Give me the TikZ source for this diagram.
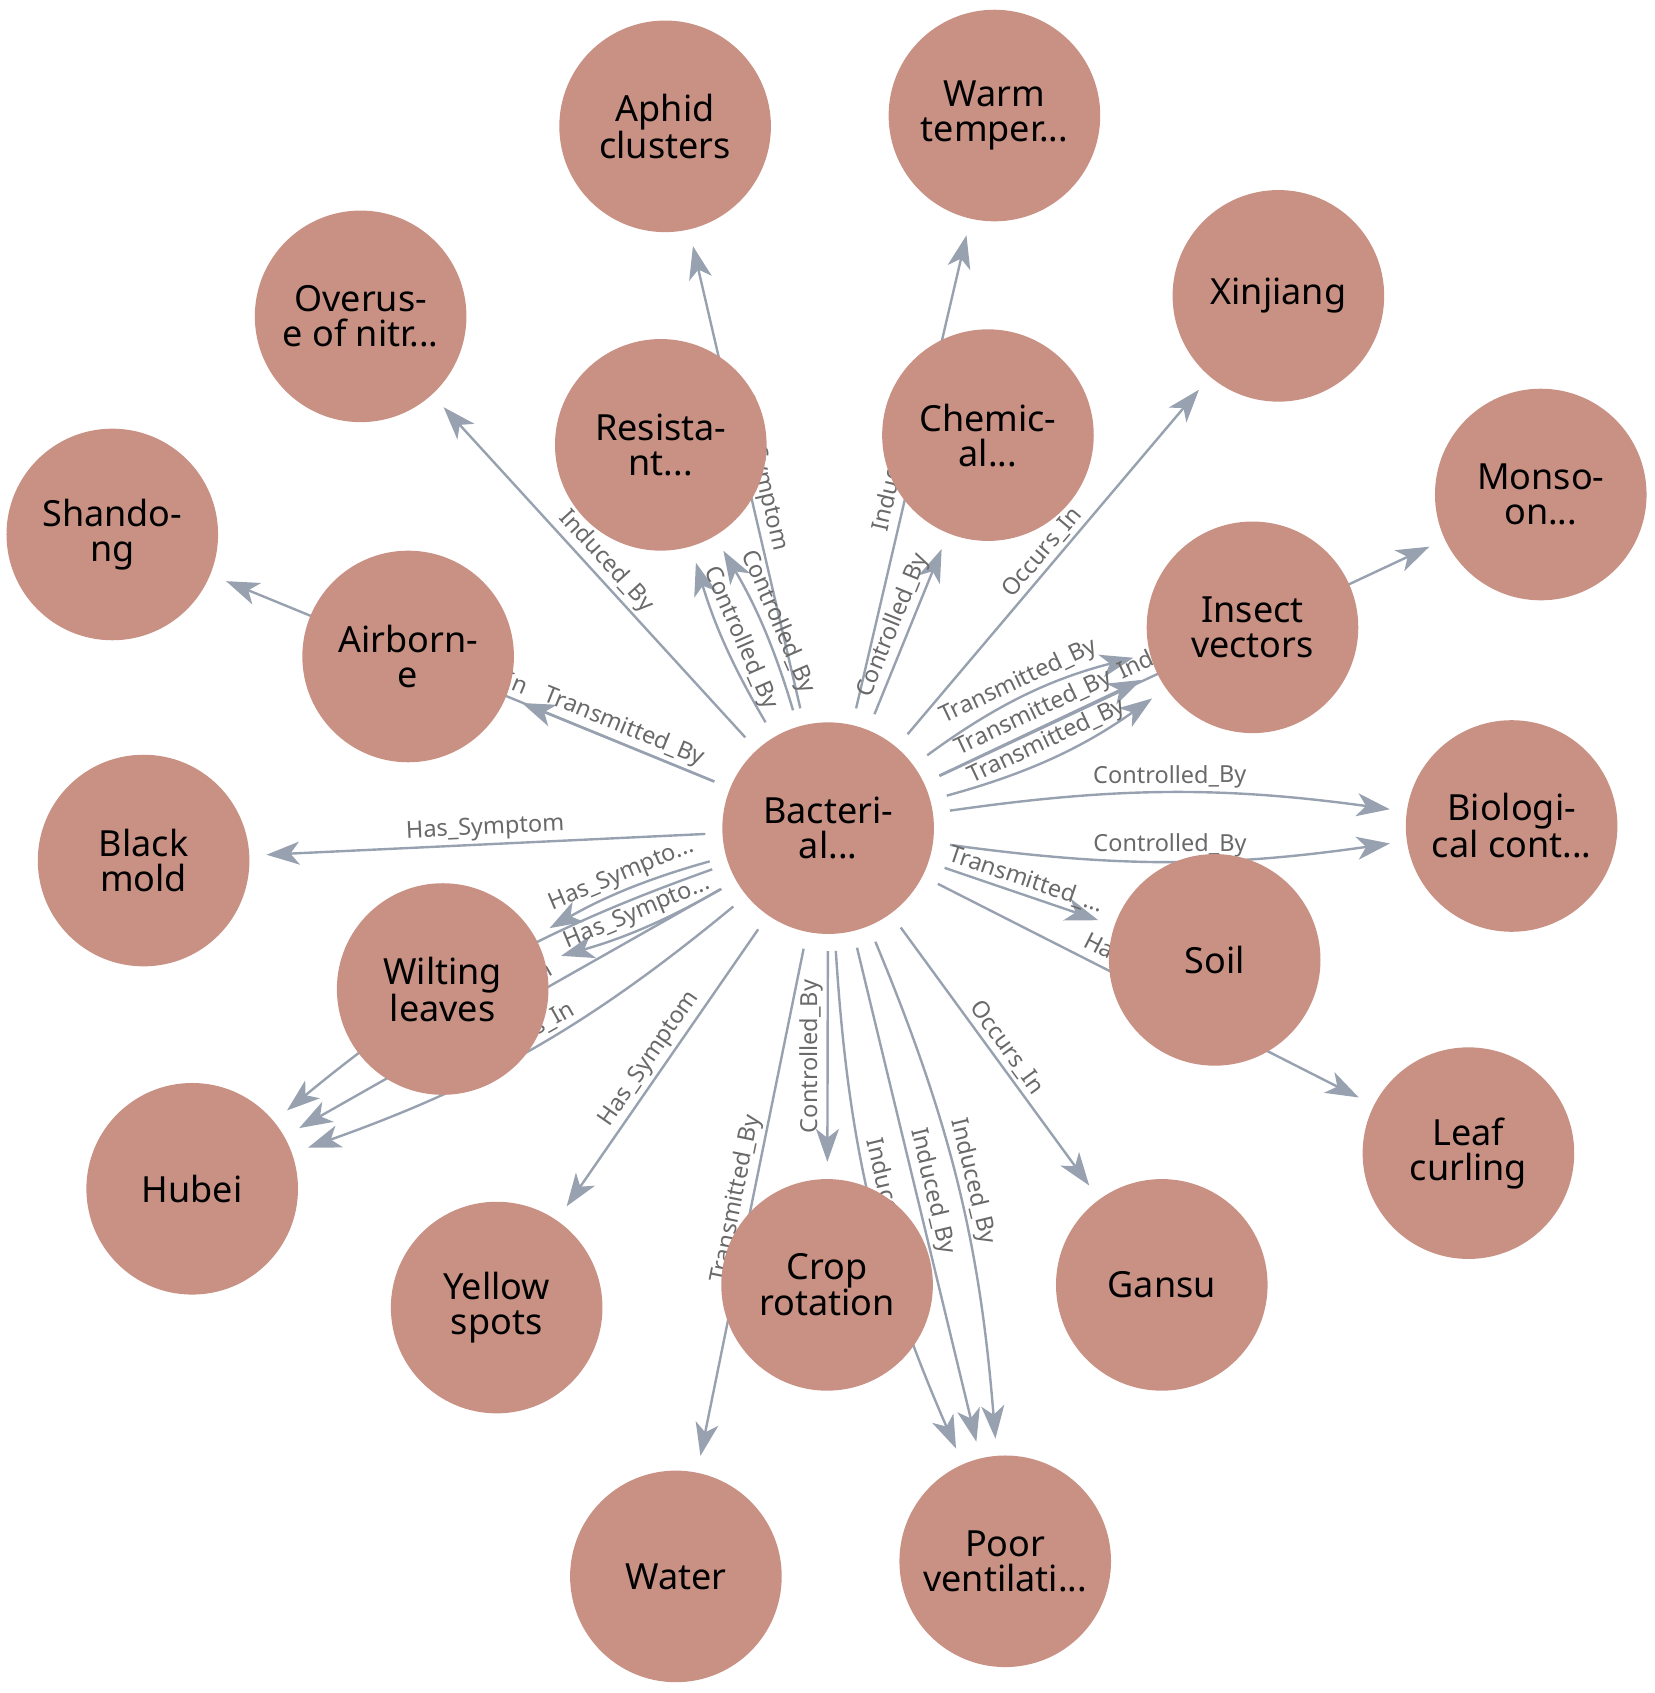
\documentclass[tikz,border=0pt]{standalone}
\usepackage{fontspec}
\setmainfont{Noto Sans}
\usetikzlibrary{arrows.meta}
\pgfdeclarelayer{background}
\pgfsetlayers{background,main}
\definecolor{nodefill}{RGB}{200,145,132}
\definecolor{edgecol}{RGB}{152,161,175}
\definecolor{labcol}{RGB}{105,105,105}
\begin{document}
\begin{tikzpicture}[x=1.0797pt,y=1.0797pt,
  ent/.style={circle,fill=nodefill,draw=none,minimum size=211.6pt,inner sep=0pt,align=center,font=\fontsize{36}{35}\selectfont,text=black},
  edge/.style={draw=edgecol,line width=2.4pt,-{Stealth[length=33pt,width=23pt,inset=9pt,fill=edgecol]},shorten >=17pt,shorten <=17pt},
  elab/.style={sloped,above,pos=0.5,font=\fontsize{23.5}{23.5}\selectfont,text=labcol,inner sep=3pt}
]
\useasboundingbox (0,0) rectangle (1532,-1568);
% nodes
\node[ent] (B) at (767,-767) {Bacteri-\\al...};
\node[ent] (aphid) at (616,-117) {Aphid\\clusters};
\node[ent] (warm) at (921,-107) {Warm\\temper...};
\node[ent] (overuse) at (334,-293) {Overus-\\e of nitr...};
\node[ent] (xinjiang) at (1184,-274) {Xinjiang};
\node[ent] (resist) at (612,-412) {Resista-\\nt...};
\node[ent] (chem) at (915,-403) {Chemic-\\al...};
\node[ent] (monsoon) at (1427,-458) {Monso-\\on...};
\node[ent] (shandong) at (104,-495) {Shando-\\ng};
\node[ent] (airborne) at (378,-608) {Airborn-\\e};
\node[ent] (insect) at (1160,-581) {Insect\\vectors};
\node[ent] (black) at (133,-797) {Black\\mold};
\node[ent] (bio) at (1400,-765) {Biologi-\\cal cont...};
\node[ent] (wilting) at (410,-916) {Wilting\\leaves};
\node[ent] (soil) at (1125,-889) {Soil};
\node[ent] (leaf) at (1360,-1068) {Leaf\\curling};
\node[ent] (hubei) at (178,-1101) {Hubei};
\node[ent] (yellow) at (460,-1211) {Yellow\\spots};
\node[ent] (crop) at (766,-1190) {Crop\\rotation};
\node[ent] (gansu) at (1076,-1190) {Gansu};
\node[ent] (water) at (626,-1460) {Water};
\node[ent] (poor) at (931,-1446) {Poor\\ventilati...};
% edges
\begin{pgfonlayer}{background}
\draw[edge] (B) -- node[elab]{Induced\_By} (overuse);
\draw[edge] (B) -- node[elab]{Has\_Symptom} (aphid);
\draw[edge] (B) to[bend left=7] node[elab]{Controlled\_By} (resist);
\draw[edge] (B) to[bend right=7] node[elab]{Controlled\_By} (resist);
\draw[edge] (B) -- node[elab]{Induced\_By} (warm);
\draw[edge] (B) -- node[elab]{Controlled\_By} (chem);
\draw[edge] (B) -- node[elab]{Occurs\_In} (xinjiang);
\draw[edge] (B) to[bend left=11] node[elab]{Transmitted\_By} (insect);
\draw[edge] (B) -- node[elab]{Transmitted\_By} (insect);
\draw[edge] (B) to[bend right=10] node[elab]{Transmitted\_By} (insect);
\draw[edge] (B) -- node[elab]{Induced\_By} (monsoon);
\draw[edge] (B) to[bend left=8] node[elab]{Controlled\_By} (bio);
\draw[edge] (B) to[bend right=8] node[elab]{Controlled\_By} (bio);
\draw[edge] (B) -- node[elab]{Transmitted\_...} (soil);
\draw[edge] (B) -- node[elab]{Has\_Symptom} (leaf);
\draw[edge] (B) -- node[elab]{Occurs\_In} (gansu);
\draw[edge] (B) to[bend right=10] node[elab]{Induced\_By} (poor);
\draw[edge] (B) -- node[elab]{Induced\_By} (poor);
\draw[edge] (B) to[bend left=9] node[elab]{Induced\_By} (poor);
\draw[edge] (B) -- node[elab]{Controlled\_By} (crop);
\draw[edge] (B) -- node[elab]{Transmitted\_By} (water);
\draw[edge] (B) -- node[elab]{Has\_Symptom} (yellow);
\draw[edge] (B) to[bend right=10] node[elab]{Occurs\_In} (hubei);
\draw[edge] (B) -- node[elab]{Occurs\_In} (hubei);
\draw[edge] (B) to[bend left=10] node[elab]{Occurs\_In} (hubei);
\draw[edge] (B) to[bend right=7] node[elab]{Has\_Sympto...} (wilting);
\draw[edge] (B) to[bend left=7] node[elab]{Has\_Sympto...} (wilting);
\draw[edge] (B) -- node[elab]{Has\_Symptom} (black);
\draw[edge] (B) -- node[elab]{Transmitted\_By} (airborne);
\draw[edge] (B) -- node[elab]{Occurs\_In} (shandong);
\end{pgfonlayer}
\end{tikzpicture}
\end{document}
